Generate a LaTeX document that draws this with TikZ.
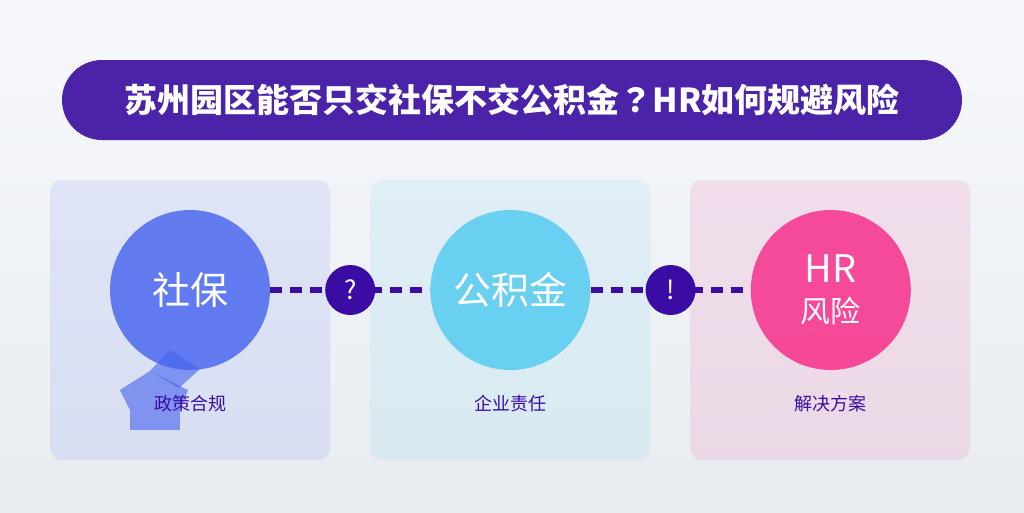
\documentclass[tikz,border=0pt]{standalone}
\usepackage{fontspec}
\setmainfont{Noto Sans CJK SC}
\newfontfamily\cjktc{Noto Sans CJK TC}
\usepackage{xcolor}
\usepackage{tikz}
\usetikzlibrary{positioning,calc}
\definecolor{deepviolet}{RGB}{58,12,163}
\definecolor{titleviolet}{RGB}{74,35,168}
\definecolor{royalblue}{RGB}{67,97,238}
\definecolor{skyblue}{RGB}{76,201,240}
\definecolor{hotpink}{RGB}{247,37,133}
\definecolor{bgtop}{RGB}{246,248,251}
\definecolor{bgbottom}{RGB}{232,236,241}

\begin{document}
\begin{tikzpicture}[
    x=1pt, y=-1pt,
    card/.style={rectangle, rounded corners=12pt, minimum width=280pt, minimum height=280pt, fill opacity=0.1},
    bigdot/.style={circle, minimum size=160pt, inner sep=0pt, fill opacity=0.8, text opacity=1, text=white, align=center, font=\fontsize{38}{44}\selectfont},
    smalldot/.style={circle, fill=deepviolet, minimum size=50pt, inner sep=0pt, text=white, font=\fontsize{26}{30}\selectfont},
    caption/.style={text=deepviolet, font=\fontsize{18}{22}\selectfont},
    link/.style={draw=deepviolet, line width=6pt, dash pattern=on 12pt off 8pt}
]
    \useasboundingbox (0,0) rectangle (1024,512);
    \shade[top color=bgtop, bottom color=bgbottom] (0,0) rectangle (1024,512);

    % title bar
    \node[fill=titleviolet, rounded corners=40pt, minimum width=900pt, minimum height=80pt, text=white,
          font=\fontsize{33}{38}\selectfont\bfseries] (title) at (512,100) {苏州园区能否只交社保不交公积金{\cjktc ？}HR如何规避风险};

    % cards
    \node[card, fill=royalblue] (cardA) at (190,320) {};
    \node[card, fill=skyblue] (cardB) at (510,320) {};
    \node[card, fill=hotpink] (cardC) at (830,320) {};

    % circles
    \node[bigdot, fill=royalblue] (shebao) at (190,290) {社保};
    \node[bigdot, fill=skyblue, right=160pt of shebao] (gjj) {公积金};
    \node[bigdot, fill=hotpink, right=160pt of gjj] (hrrisk) {HR\\[-4pt]{\fontsize{30}{34}\selectfont 风险}};

    % blue marker under the first circle
    \begin{scope}[fill=royalblue, fill opacity=0.6]
        \fill (170,350) -- (200,369) -- (179,388) -- (150,371) -- cycle;
        \fill (150,371) -- (188,390) -- (180,410) -- (130,410) -- (120,390) -- cycle;
        \fill (130,410) rectangle (180,430);
    \end{scope}

    % captions
    \node[caption] (capA) at (190,404) {政策合规};
    \node[caption] (capB) at (510,404) {企业责任};
    \node[caption] (capC) at (830,404) {解决方案};

    % dashed links
    \draw[link] (shebao.east) -- (gjj.west);
    \draw[link] (gjj.east) -- (hrrisk.west);
    \node[smalldot] (ask) at ($(shebao)!0.5!(gjj)$) {?};
    \node[smalldot] (bang) at ($(gjj)!0.5!(hrrisk)$) {!};
\end{tikzpicture}
\end{document}
